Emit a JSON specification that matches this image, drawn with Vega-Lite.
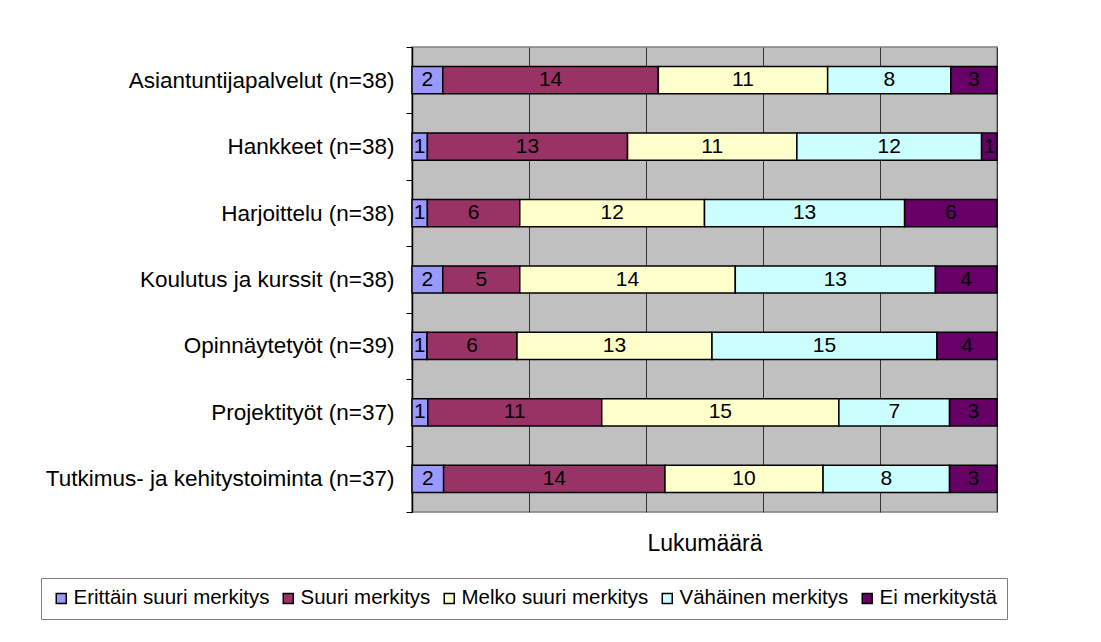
{
  "$schema": "https://vega.github.io/schema/vega-lite/v6.json",
  "width": 585,
  "height": 465,
  "autosize": {"type": "none"},
  "padding": {"left": 412, "top": 47, "right": 104, "bottom": 130},
  "background": "white",
  "config": {
    "font": "Liberation Sans",
    "view": {"fill": "#C0C0C0", "stroke": "#808080", "strokeWidth": 1.5}
  },
  "data": {
    "values": [
      {"cat": "Asiantuntijapalvelut (n=38)", "k": "Erittäin suuri merkitys", "o": 1, "n": 2},
      {"cat": "Asiantuntijapalvelut (n=38)", "k": "Suuri merkitys", "o": 2, "n": 14},
      {"cat": "Asiantuntijapalvelut (n=38)", "k": "Melko suuri merkitys", "o": 3, "n": 11},
      {"cat": "Asiantuntijapalvelut (n=38)", "k": "Vähäinen merkitys", "o": 4, "n": 8},
      {"cat": "Asiantuntijapalvelut (n=38)", "k": "Ei merkitystä", "o": 5, "n": 3},
      {"cat": "Hankkeet (n=38)", "k": "Erittäin suuri merkitys", "o": 1, "n": 1},
      {"cat": "Hankkeet (n=38)", "k": "Suuri merkitys", "o": 2, "n": 13},
      {"cat": "Hankkeet (n=38)", "k": "Melko suuri merkitys", "o": 3, "n": 11},
      {"cat": "Hankkeet (n=38)", "k": "Vähäinen merkitys", "o": 4, "n": 12},
      {"cat": "Hankkeet (n=38)", "k": "Ei merkitystä", "o": 5, "n": 1},
      {"cat": "Harjoittelu (n=38)", "k": "Erittäin suuri merkitys", "o": 1, "n": 1},
      {"cat": "Harjoittelu (n=38)", "k": "Suuri merkitys", "o": 2, "n": 6},
      {"cat": "Harjoittelu (n=38)", "k": "Melko suuri merkitys", "o": 3, "n": 12},
      {"cat": "Harjoittelu (n=38)", "k": "Vähäinen merkitys", "o": 4, "n": 13},
      {"cat": "Harjoittelu (n=38)", "k": "Ei merkitystä", "o": 5, "n": 6},
      {"cat": "Koulutus ja kurssit (n=38)", "k": "Erittäin suuri merkitys", "o": 1, "n": 2},
      {"cat": "Koulutus ja kurssit (n=38)", "k": "Suuri merkitys", "o": 2, "n": 5},
      {"cat": "Koulutus ja kurssit (n=38)", "k": "Melko suuri merkitys", "o": 3, "n": 14},
      {"cat": "Koulutus ja kurssit (n=38)", "k": "Vähäinen merkitys", "o": 4, "n": 13},
      {"cat": "Koulutus ja kurssit (n=38)", "k": "Ei merkitystä", "o": 5, "n": 4},
      {"cat": "Opinnäytetyöt (n=39)", "k": "Erittäin suuri merkitys", "o": 1, "n": 1},
      {"cat": "Opinnäytetyöt (n=39)", "k": "Suuri merkitys", "o": 2, "n": 6},
      {"cat": "Opinnäytetyöt (n=39)", "k": "Melko suuri merkitys", "o": 3, "n": 13},
      {"cat": "Opinnäytetyöt (n=39)", "k": "Vähäinen merkitys", "o": 4, "n": 15},
      {"cat": "Opinnäytetyöt (n=39)", "k": "Ei merkitystä", "o": 5, "n": 4},
      {"cat": "Projektityöt (n=37)", "k": "Erittäin suuri merkitys", "o": 1, "n": 1},
      {"cat": "Projektityöt (n=37)", "k": "Suuri merkitys", "o": 2, "n": 11},
      {"cat": "Projektityöt (n=37)", "k": "Melko suuri merkitys", "o": 3, "n": 15},
      {"cat": "Projektityöt (n=37)", "k": "Vähäinen merkitys", "o": 4, "n": 7},
      {"cat": "Projektityöt (n=37)", "k": "Ei merkitystä", "o": 5, "n": 3},
      {"cat": "Tutkimus- ja kehitystoiminta (n=37)", "k": "Erittäin suuri merkitys", "o": 1, "n": 2},
      {"cat": "Tutkimus- ja kehitystoiminta (n=37)", "k": "Suuri merkitys", "o": 2, "n": 14},
      {"cat": "Tutkimus- ja kehitystoiminta (n=37)", "k": "Melko suuri merkitys", "o": 3, "n": 10},
      {"cat": "Tutkimus- ja kehitystoiminta (n=37)", "k": "Vähäinen merkitys", "o": 4, "n": 8},
      {"cat": "Tutkimus- ja kehitystoiminta (n=37)", "k": "Ei merkitystä", "o": 5, "n": 3}
    ]
  },
  "transform": [
    {"stack": "n", "groupby": ["cat"], "sort": [{"field": "o"}], "offset": "normalize", "as": ["x0", "x1"]},
    {"calculate": "(datum.x0 + datum.x1) / 2", "as": "xm"}
  ],
  "encoding": {
    "y": {
      "field": "cat",
      "type": "nominal",
      "sort": null,
      "title": null,
      "scale": {"paddingInner": 0, "paddingOuter": 0},
      "axis": {
        "tickBand": "extent",
        "tickSize": 6,
        "tickColor": "#000",
        "domainColor": "#000",
        "domainWidth": 1.5,
        "labelFontSize": 22.5,
        "labelColor": "#000",
        "labelPadding": 12,
        "labelLimit": 400,
        "grid": false
      }
    }
  },
  "layer": [
    {
      "mark": {"type": "bar", "stroke": "#000", "strokeWidth": 1.5, "height": {"band": 0.41}},
      "encoding": {
        "x": {
          "field": "x0",
          "type": "quantitative",
          "scale": {"domain": [0, 1], "nice": false},
          "axis": {
            "values": [0, 0.2, 0.4, 0.6, 0.8, 1],
            "grid": true,
            "gridColor": "#333",
            "gridWidth": 1,
            "labels": false,
            "ticks": false,
            "domain": false,
            "title": "Lukumäärä",
            "titleFontSize": 23,
            "titleFontWeight": "normal",
            "titleColor": "#000",
            "titlePadding": 20
          }
        },
        "x2": {"field": "x1"},
        "color": {
          "field": "k",
          "type": "nominal",
          "sort": ["Erittäin suuri merkitys", "Suuri merkitys", "Melko suuri merkitys", "Vähäinen merkitys", "Ei merkitystä"],
          "scale": {
            "domain": ["Erittäin suuri merkitys", "Suuri merkitys", "Melko suuri merkitys", "Vähäinen merkitys", "Ei merkitystä"],
            "range": ["#9999FF", "#993366", "#FFFFCC", "#CCFFFF", "#660066"]
          },
          "legend": {
            "title": null,
            "orient": "none",
            "direction": "horizontal",
            "columns": 5,
            "legendX": -371,
            "legendY": 531,
            "symbolType": "square",
            "symbolSize": 100,
            "symbolStrokeColor": "#000",
            "symbolStrokeWidth": 1.5,
            "symbolOpacity": 1,
            "labelFontSize": 20.5,
            "labelColor": "#000",
            "labelOffset": 2,
            "labelLimit": 400,
            "columnPadding": 8,
            "padding": 10,
            "strokeColor": "#808080",
            "fillColor": "white"
          }
        }
      }
    },
    {
      "mark": {"type": "text", "fontSize": 21, "color": "#000", "align": "center", "baseline": "middle"},
      "encoding": {
        "x": {"field": "xm", "type": "quantitative"},
        "text": {"field": "n", "type": "quantitative"}
      }
    }
  ]
}
